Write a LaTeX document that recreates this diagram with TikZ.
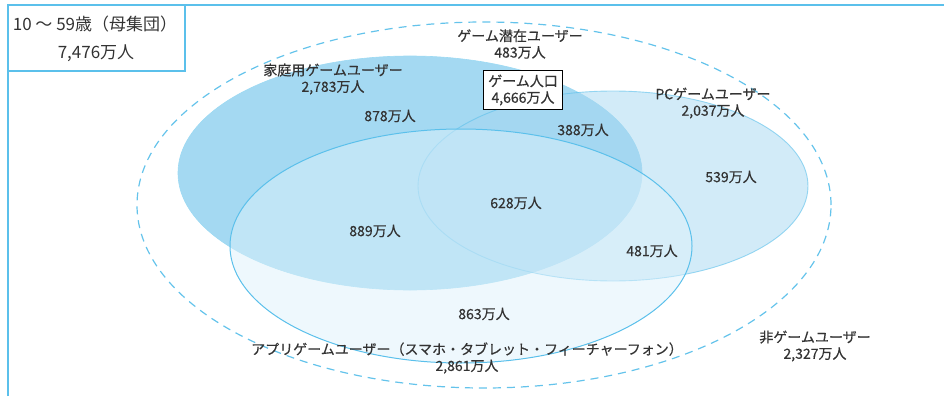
\documentclass[tikz,border=0pt]{standalone}
\usepackage{fontspec}
\setmainfont{Noto Sans CJK JP}
\newfontfamily\medfont{Noto Sans CJK JP}[FakeBold=0.5]
\begin{document}
\begin{tikzpicture}[x=1pt,y=-1pt,
  txt/.style={font=\medfont\fontsize{14}{16.5}\selectfont, text=black!80, align=center, inner sep=0pt},
  frameline/.style={draw=frameblue, line width=1.4pt}]
\definecolor{frameblue}{RGB}{91,192,235}
\definecolor{homefill}{RGB}{164,217,242}
\definecolor{pcfill}{RGB}{165,215,241}
\definecolor{appfill}{RGB}{221,241,251}
\definecolor{dashblue}{RGB}{100,195,235}
\useasboundingbox (0,0) rectangle (944,396);
% frame
\draw[frameline] (8,396) -- (8,5) -- (944,5);
\draw[frameline] (8,71) -- (185,71) -- (185,5);
\node[font=\fontsize{17}{19}\selectfont, text=black!80, inner sep=0pt] (pop1) at (95,24) {10 ～ 59歳（母集団）};
\node[font=\fontsize{17}{19}\selectfont, text=black!80, inner sep=0pt] (pop2) at (96,53) {7,476万人};
% dashed outer
\draw[dashblue, line width=1.2pt, dash pattern=on 8pt off 6pt] (484,205) ellipse [x radius=347pt, y radius=183pt];
% home
\fill[homefill] (410,173) ellipse [x radius=232pt, y radius=117pt];
\draw[frameblue!60, line width=0.6pt] (410,173) ellipse [x radius=232pt, y radius=117pt];
% pc
\fill[pcfill, fill opacity=0.5] (613,186) ellipse [x radius=195pt, y radius=95pt];
\draw[frameblue, draw opacity=0.6, line width=0.9pt] (613,186) ellipse [x radius=195pt, y radius=95pt];
% app
\fill[appfill, fill opacity=0.5] (461,246) ellipse [x radius=231pt, y radius=117pt];
\draw[frameblue, line width=1pt] (461,246) ellipse [x radius=231pt, y radius=117pt];
% labels
\node[txt] (latent) at (520,44) {ゲーム潜在ユーザー\\483万人};
\node[txt] (home) at (333,79) {家庭用ゲームユーザー\\2,783万人};
\node[txt, draw=black, line width=0.6pt, fill=white, inner xsep=5pt, inner ysep=4pt] (total) at (523,90) {ゲーム人口\\4,666万人};
\node[txt] (pc) at (713,103) {PCゲームユーザー\\2,037万人};
\node[txt] (n878) at (390,116) {878万人};
\node[txt] (n388) at (583,130) {388万人};
\node[txt] (n539) at (731,177) {539万人};
\node[txt] (n628) at (516,203) {628万人};
\node[txt] (n889) at (375,231) {889万人};
\node[txt] (n481) at (652,251) {481万人};
\node[txt] (n863) at (484,314) {863万人};
\node[txt] (app) at (467,358) {アプリゲームユーザー（スマホ・タブレット・フィーチャーフォン）\\2,861万人};
\node[txt] (non) at (815,346) {非ゲームユーザー\\2,327万人};
\end{tikzpicture}
\end{document}
